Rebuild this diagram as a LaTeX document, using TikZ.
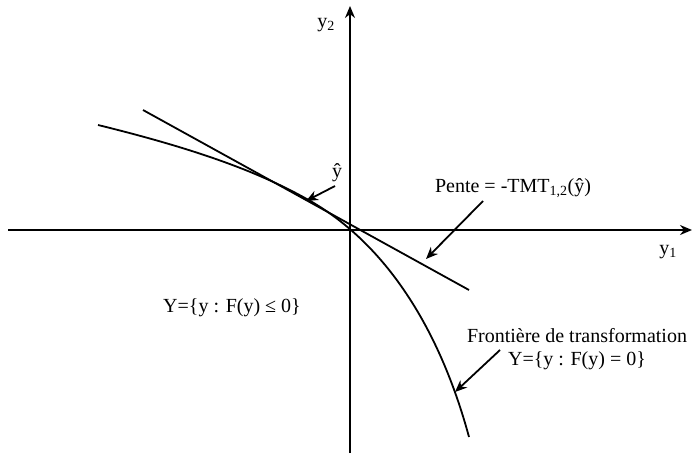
\documentclass[tikz,border=0pt]{standalone}
\usepackage{fontspec}
\setmainfont{Liberation Serif}
\usetikzlibrary{arrows.meta}
\begin{document}
\begin{tikzpicture}[x=1pt,y=-1pt,
  ln/.style={line width=1.8pt},
  arr/.style={line width=1.8pt,-{Stealth[length=12pt,width=10pt]}},
  lbl/.style={font=\fontsize{20}{23}\selectfont, inner sep=0pt}]
\useasboundingbox (0,0) rectangle (692,453);
% axes
\coordinate (xl) at (8,230);
\coordinate (xr) at (692,230);
\coordinate (yb) at (350,453);
\coordinate (yt) at (350,6);
\draw[arr] (xl) -- (xr);
\draw[arr] (yb) -- (yt);
\node[lbl] (y1) at (668,252) {y\textsubscript{1}};
\node[lbl] (y2) at (326,25) {y\textsubscript{2}};
% tangent line
\coordinate (ta) at (143,110);
\coordinate (tb) at (469,290);
\draw[ln] (ta) -- (tb);
% frontier curve
\coordinate (c0) at (98,125);
\coordinate (c1) at (305,198);
\coordinate (c2) at (469,437);
\draw[ln] (c0) .. controls (200,150) and (260,173) .. (c1)
               .. controls (386,242) and (440,330) .. (c2);
% labels
\node[lbl] (yhat) at (337,173) {ŷ};
\coordinate (yhs) at (335,186);
\coordinate (yht) at (306,201);
\draw[arr] (yhs) -- (yht);
\node[lbl] (pente) at (513,188) {Pente = -TMT\textsubscript{1,2}(ŷ)};
\coordinate (ps) at (483,201);
\coordinate (pt) at (426,259);
\draw[arr] (ps) -- (pt);
\node[lbl, align=center] (front) at (577,349) {Frontière de transformation\\Y=\{y : F(y) = 0\}};
\coordinate (fs) at (500,350);
\coordinate (ft) at (455,392);
\draw[arr] (fs) -- (ft);
\node[lbl] (yset) at (232,308) {Y=\{y : F(y) ≤ 0\}};
\end{tikzpicture}
\end{document}
